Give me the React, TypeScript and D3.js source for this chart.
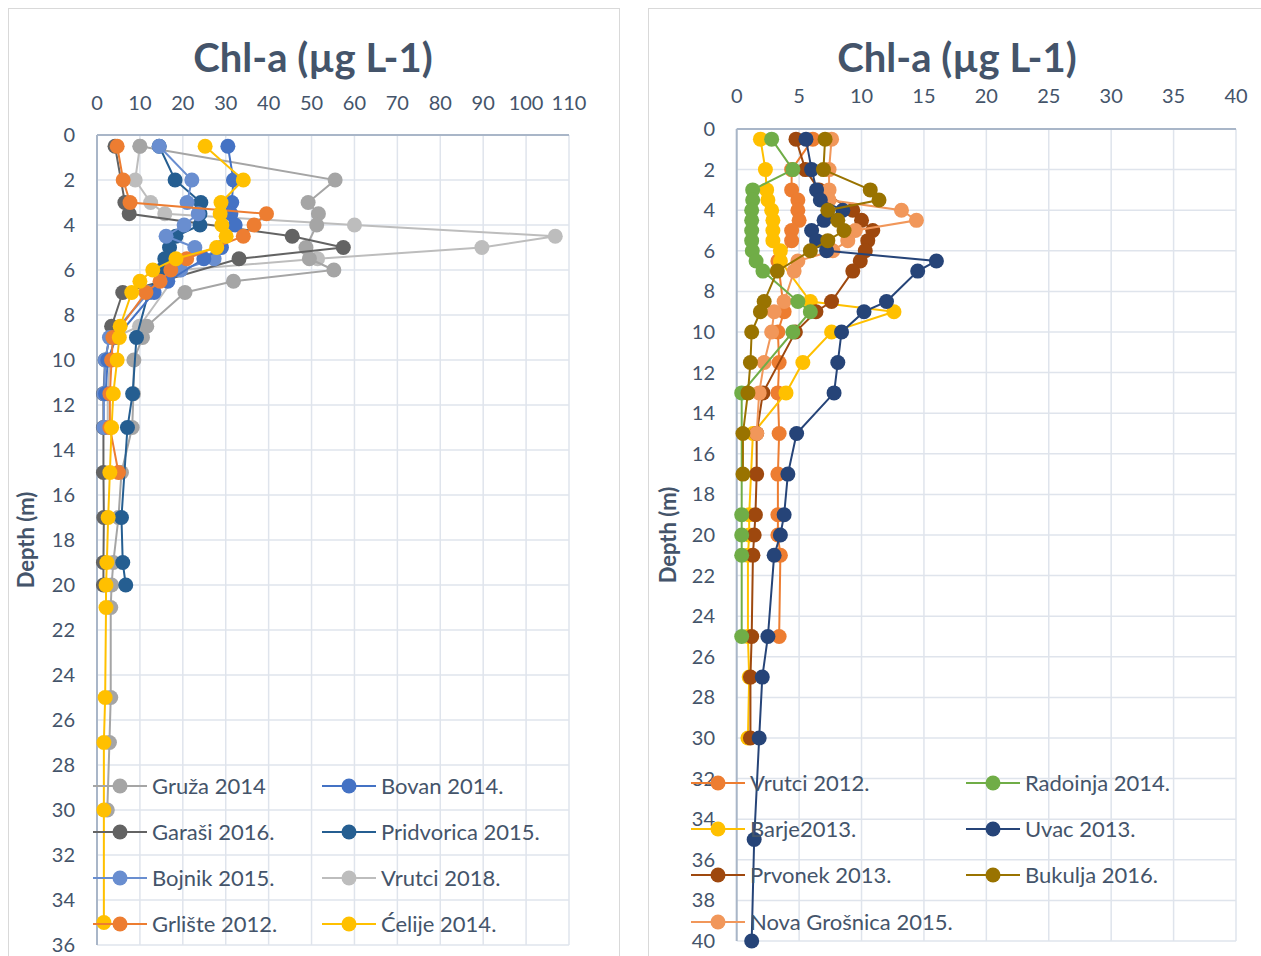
import React from 'react';
import * as d3 from 'd3';

// ---------- LEFT PANEL DATA ----------
const leftXTicks = [0, 10, 20, 30, 40, 50, 60, 70, 80, 90, 100, 110];
const leftYTicks = d3.range(0, 37, 2);
const leftNames = ['Gruža 2014', 'Garaši 2016.', 'Bojnik 2015.', 'Grlište 2012.', 'Bovan 2014.', 'Pridvorica 2015.', 'Vrutci 2018.', 'Ćelije 2014.'];
const leftColors = ['#A5A5A5', '#636363', '#698ED0', '#ED7D31', '#4472C4', '#255E91', '#BDBDBD', '#FFC000'];

const grDepth = [0.5, 2, 3, 3.5, 4, 5, 5.5, 6, 6.5, 7, 8.5, 9, 10, 11.5, 13, 15, 17, 19, 20, 21, 25, 27, 30];
const grVal = [10, 55.5, 49.2, 51.6, 51.2, 48.7, 49.5, 55.2, 31.8, 20.5, 11.6, 10.6, 8.6, 8.5, 8.2, 5.7, 5.0, 3.8, 3.4, 3.2, 3.2, 2.9, 2.4];
const gaDepth = [0.5, 3, 3.5, 4.5, 5, 5.5, 7, 8.5, 10, 11.5, 13, 15, 17, 19, 20];
const gaVal = [4.2, 6.5, 7.5, 45.5, 57.4, 33.1, 6.0, 3.4, 1.9, 1.5, 1.5, 1.5, 1.6, 1.5, 1.5];
const boDepth = [0.5, 2, 3, 3.5, 4, 4.5, 5, 5.5, 6, 7, 9, 10, 11.5, 13];
const boVal = [14.5, 22.1, 21.0, 23.6, 20.3, 16.1, 22.8, 27.3, 19.5, 12, 2.9, 1.9, 1.6, 1.6];
const grlDepth = [0.5, 2, 3, 3.5, 4, 4.5, 5.5, 6, 6.5, 7, 9, 10, 11.5, 13, 15];
const grlVal = [4.7, 6.1, 7.7, 39.5, 36.6, 34.1, 20.9, 17.2, 14.7, 11.4, 3.7, 3.4, 3.0, 3.0, 5.0];
const bvDepth = [0.5, 2, 3, 3.5, 4, 5, 5.5, 6.5, 7, 9, 10, 11.5];
const bvVal = [30.5, 31.8, 31.4, 31.2, 32.2, 29, 24.9, 16.5, 13.3, 4.5, 2.5, 2.0];
const prDepth = [0.5, 2, 3, 3.5, 4, 4.5, 5, 5.5, 6, 7, 9, 11.5, 13, 17, 19, 20];
const prVal = [14.5, 18.2, 24.2, 24.0, 24.0, 18.4, 16.9, 15.8, 15, 12, 9.2, 8.3, 7.1, 5.7, 6.0, 6.7];
const vrDepth = [0.5, 2, 3, 3.5, 4, 4.5, 5, 5.5, 6, 8.5, 9, 10, 11.5, 13];
const vrVal = [10, 8.9, 12.5, 15.8, 60, 106.8, 89.7, 51.4, 19.3, 9.9, 4, 3, 2.5, 2.5];
const ceDepth = [0.5, 2, 3, 3.5, 4, 4.5, 5, 5.5, 6, 6.5, 7, 8.5, 9, 10, 11.5, 13, 15, 17, 19, 20, 21, 25, 27, 30, 35];
const ceVal = [25.2, 34.1, 28.9, 28.7, 29.1, 30.1, 27.9, 18.4, 13.0, 10.0, 8.1, 5.4, 5.2, 4.7, 3.8, 3.4, 3.0, 2.6, 2.3, 2.1, 2.1, 1.9, 1.6, 1.6, 1.6];

const leftDepths = [grDepth, gaDepth, boDepth, grlDepth, bvDepth, prDepth, vrDepth, ceDepth];
const leftVals = [grVal, gaVal, boVal, grlVal, bvVal, prVal, vrVal, ceVal];
// draw order (back to front)
const leftOrder = [6, 0, 1, 5, 2, 4, 3, 7];

// ---------- RIGHT PANEL DATA ----------
const rightXTicks = [0, 5, 10, 15, 20, 25, 30, 35, 40];
const rightYTicks = d3.range(0, 41, 2);
const rightNames = ['Vrutci 2012.', 'Barje2013.', 'Prvonek 2013.', 'Nova Grošnica 2015.', 'Radoinja 2014.', 'Uvac 2013.', 'Bukulja 2016.'];
const rightColors = ['#ED7D31', '#FFC000', '#9E480E', '#F1975A', '#70AD47', '#264478', '#997300'];

const vtDepth = [0.5, 2, 3, 3.5, 4, 4.5, 5, 5.5, 6.5, 9, 10, 11.5, 13, 15, 17, 19, 20, 21, 25];
const vtVal = [6.1, 4.4, 4.4, 4.9, 4.9, 5.0, 4.4, 4.4, 3.3, 3.8, 3.3, 3.4, 3.3, 3.4, 3.3, 3.3, 3.3, 3.5, 3.4];
const baDepth = [0.5, 2, 3, 3.5, 4, 4.5, 5, 5.5, 6, 6.5, 8.5, 9, 10, 11.5, 13, 15, 19, 20, 21, 25, 27, 30];
const baVal = [1.9, 2.3, 2.4, 2.5, 2.8, 2.9, 2.9, 2.9, 3.5, 3.5, 5.9, 12.6, 7.6, 5.3, 3.95, 1.3, 1.0, 1.0, 0.9, 0.9, 1.0, 0.9];
const pvDepth = [0.5, 2, 3, 4, 4.5, 5, 5.5, 6, 6.5, 7, 8.5, 9, 10, 13, 15, 17, 19, 20, 21, 25, 27, 30];
const pvVal = [4.75, 5.5, 6.6, 9.3, 10.0, 10.9, 10.5, 10.3, 9.9, 9.3, 7.6, 6.35, 4.7, 2.1, 1.6, 1.6, 1.5, 1.4, 1.3, 1.2, 1.1, 1.1];
const ngDepth = [0.5, 2, 3, 3.5, 4, 4.5, 5, 5.5, 6, 6.5, 7, 8.5, 9, 10, 11.5, 13, 15];
const ngVal = [7.6, 7.4, 7.4, 7.4, 13.2, 14.4, 9.5, 8.9, 7.7, 4.9, 4.6, 3.8, 3.0, 2.8, 2.2, 1.8, 1.6];
const raDepth = [0.5, 2, 3, 3.5, 4, 4.5, 5, 5.5, 6, 6.5, 7, 8.5, 9, 10, 13, 19, 20, 21, 25];
const raVal = [2.8, 4.5, 1.28, 1.28, 1.2, 1.2, 1.2, 1.2, 1.25, 1.55, 2.1, 4.9, 5.9, 4.5, 0.4, 0.4, 0.4, 0.4, 0.4];
const uvDepth = [0.5, 2, 3, 3.5, 4, 4.5, 5, 5.5, 6, 6.5, 7, 8.5, 9, 10, 11.5, 13, 15, 17, 19, 20, 21, 25, 27, 30, 35, 40];
const uvVal = [5.55, 6.0, 6.4, 6.7, 8.5, 7.0, 6.0, 6.4, 7.2, 16.0, 14.5, 12.0, 10.2, 8.4, 8.1, 7.8, 4.8, 4.1, 3.8, 3.5, 3.0, 2.5, 2.05, 1.8, 1.4, 1.2];
const bkDepth = [0.5, 2, 3, 3.5, 4, 4.5, 5, 5.5, 6, 7, 8.5, 9, 10, 11.5, 13, 15, 17];
const bkVal = [7.08, 6.95, 10.7, 11.4, 7.3, 8.1, 8.6, 7.3, 5.9, 3.25, 2.2, 1.9, 1.2, 1.1, 0.9, 0.5, 0.5];

const rightDepths = [vtDepth, baDepth, pvDepth, ngDepth, raDepth, uvDepth, bkDepth];
const rightVals = [vtVal, baVal, pvVal, ngVal, raVal, uvVal, bkVal];
const rightOrder = [0, 1, 2, 3, 4, 5, 6];

const FONT = 'Lato, "Open Sans", sans-serif';
const TXT = '#44546A';
const GRID = '#DFE4EC';
const AXIS = '#A9B6C8';

type PanelProps = {
  x0: number; x1: number; y0: number; y1: number;
  xDomain: [number, number]; yDomain: [number, number];
  xTicks: number[]; yTicks: number[];
  names: string[]; colors: string[];
  depths: number[][]; vals: number[][]; order: number[];
  titleX: number; titleY: number; xLabelY: number; yLabelRight: number; yTitleX: number; yTitleY: number;
  legendRows: number[]; legendCols: number[]; legendPerCol: number;
};

function Panel(p: PanelProps) {
  const x = d3.scaleLinear().domain(p.xDomain).range([p.x0, p.x1]);
  const y = d3.scaleLinear().domain(p.yDomain).range([p.y0, p.y1]);
  const line = d3.line<[number, number]>().x(d => x(d[0])).y(d => y(d[1]));
  return (
    <g>
      {p.xTicks.map(t => (
        <line key={'gx' + t} x1={x(t)} x2={x(t)} y1={p.y0} y2={p.y1} stroke={GRID} strokeWidth={1.5} />
      ))}
      {p.yTicks.map(t => (
        <line key={'gy' + t} x1={p.x0} x2={p.x1} y1={y(t)} y2={y(t)} stroke={GRID} strokeWidth={1.5} />
      ))}
      <line x1={p.x0} x2={p.x1} y1={p.y0} y2={p.y0} stroke={AXIS} strokeWidth={2} />
      <line x1={p.x0} x2={p.x0} y1={p.y0} y2={p.y1} stroke={AXIS} strokeWidth={2} />
      {p.xTicks.map(t => (
        <text key={'tx' + t} x={x(t)} y={p.xLabelY} textAnchor="middle" fontSize={20} fill={TXT} fontFamily={FONT}>{t}</text>
      ))}
      {p.yTicks.map(t => (
        <text key={'ty' + t} x={p.yLabelRight} y={y(t)} dy="0.35em" textAnchor="end" fontSize={20} fill={TXT} fontFamily={FONT}>{t}</text>
      ))}
      <text x={p.titleX} y={p.titleY} textAnchor="middle" fontSize={40} fontWeight="bold" fill={TXT} fontFamily={FONT}>Chl-a (µg L-1)</text>
      <text transform={`translate(${p.yTitleX},${p.yTitleY}) rotate(-90)`} textAnchor="middle" fontSize={22} fontWeight="bold" fill={TXT} fontFamily={FONT}>Depth (m)</text>
      {p.order.map(i => {
        const pts: [number, number][] = p.vals[i].map((v, k) => [v, p.depths[i][k]]);
        return (
          <g key={'s' + i}>
            <path d={line(pts) || ''} fill="none" stroke={p.colors[i]} strokeWidth={2} />
            {pts.map((d, k) => (
              <circle key={k} cx={x(d[0])} cy={y(d[1])} r={7.5} fill={p.colors[i]} />
            ))}
          </g>
        );
      })}
      {p.names.map((n, i) => {
        const col = Math.floor(i / p.legendPerCol);
        const row = i % p.legendPerCol;
        const lx = p.legendCols[col];
        const ly = p.legendRows[row];
        return (
          <g key={'lg' + i}>
            <line x1={lx} x2={lx + 54} y1={ly} y2={ly} stroke={p.colors[i]} strokeWidth={2} />
            <circle cx={lx + 27} cy={ly} r={7.5} fill={p.colors[i]} />
            <text x={lx + 59} y={ly} dy="0.35em" fontSize={22} fill={TXT} fontFamily={FONT}>{n}</text>
          </g>
        );
      })}
    </g>
  );
}

export default function App() {
  return (
    <svg width={1261} height={956} style={{ position: 'absolute', left: 0, top: 0, background: '#fff' }}>
      <rect x={0} y={0} width={1261} height={956} fill="#fff" />
      <rect x={8.5} y={8.5} width={611} height={960} fill="#fff" stroke="#D9D9D9" />
      <rect x={648.5} y={8.5} width={620} height={960} fill="#fff" stroke="#D9D9D9" />
      <Panel
        x0={97} x1={569} y0={135} y1={945}
        xDomain={[0, 110]} yDomain={[0, 36]}
        xTicks={leftXTicks} yTicks={leftYTicks}
        names={leftNames} colors={leftColors}
        depths={leftDepths} vals={leftVals} order={leftOrder}
        titleX={313} titleY={72} xLabelY={110} yLabelRight={75} yTitleX={34} yTitleY={540}
        legendRows={[786, 832, 878, 924]} legendCols={[93, 322]} legendPerCol={4}
      />
      <Panel
        x0={736.7} x1={1236} y0={129} y1={941}
        xDomain={[0, 40]} yDomain={[0, 40]}
        xTicks={rightXTicks} yTicks={rightYTicks}
        names={rightNames} colors={rightColors}
        depths={rightDepths} vals={rightVals} order={rightOrder}
        titleX={957} titleY={72} xLabelY={103} yLabelRight={715} yTitleX={676} yTitleY={535}
        legendRows={[783, 829, 875, 922]} legendCols={[691, 966]} legendPerCol={4}
      />
    </svg>
  );
}
